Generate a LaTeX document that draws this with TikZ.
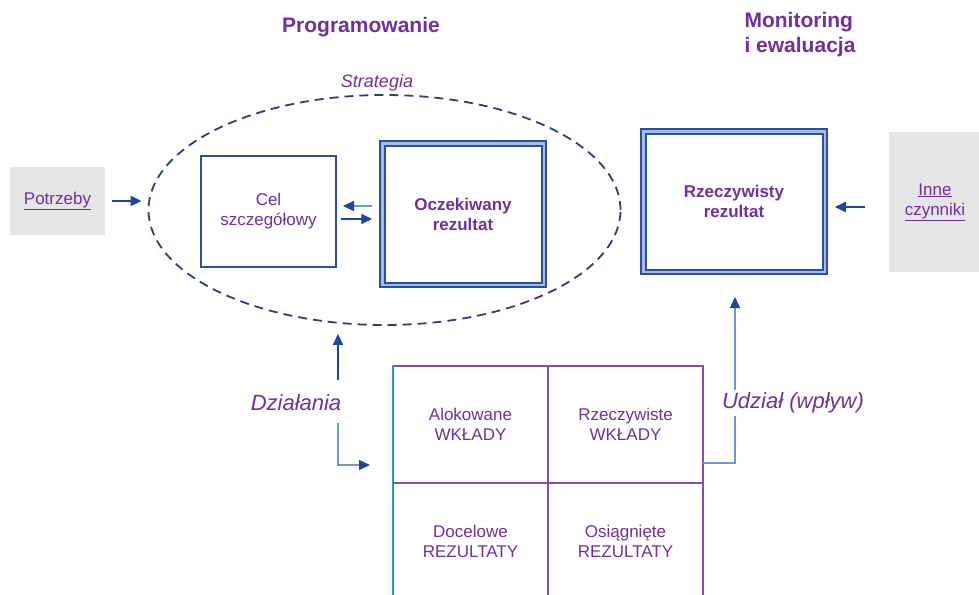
\documentclass[tikz,border=0pt]{standalone}
\usepackage{fontspec}
\setmainfont{Liberation Sans}
\usetikzlibrary{arrows.meta,shapes.geometric}
\definecolor{txtpurple}{RGB}{112,48,160}
\definecolor{boxblue}{RGB}{46,78,158}
\definecolor{lightblue}{RGB}{160,188,232}
\definecolor{dashnavy}{RGB}{44,64,118}
\definecolor{arrowblue}{RGB}{30,70,160}
\definecolor{lineblue}{RGB}{110,150,212}
\definecolor{gridpurple}{RGB}{130,80,170}
\definecolor{gridcyan}{RGB}{60,160,200}
\definecolor{boxgray}{RGB}{230,230,230}

\begin{document}
\begin{tikzpicture}[x=1pt,y=-1pt]
\tikzset{
  plainbox/.style={rectangle,draw=boxblue,line width=2pt,inner sep=2pt,align=center,text=txtpurple,font=\fontsize{17}{20}\selectfont},
  resultbox/.style={rectangle,draw=boxblue,double=lightblue,double distance=2.5pt,line width=2pt,inner sep=2pt,align=center,text=txtpurple,font=\fontsize{17}{20}\selectfont\bfseries},
  graybox/.style={rectangle,fill=boxgray,inner sep=2pt,align=center,text=txtpurple,font=\fontsize{17}{20}\selectfont},
  gridcell/.style={rectangle,draw=gridpurple,line width=1.2pt,minimum width=155pt,minimum height=117pt,align=center,text=txtpurple,font=\fontsize{17}{20}\selectfont},
  strategy/.style={ellipse,draw=dashnavy,line width=1.8pt,dash pattern=on 9pt off 6pt,minimum width=472pt,minimum height=230pt,inner sep=0pt},
  heading/.style={text=txtpurple,font=\fontsize{21}{25}\selectfont\bfseries,align=left},
  caption/.style={text=txtpurple,font=\fontsize{22}{26}\selectfont\itshape,fill=white,inner sep=3pt},
  directed/.style={-{Triangle[length=11pt,width=10pt]},draw=arrowblue,line width=2pt},
  lightdirected/.style={-{Triangle[length=11pt,width=10pt,color=arrowblue]},draw=lineblue,line width=1.3pt}
}
\useasboundingbox[fill=white] (0,0) rectangle (979,594);
\node[heading] (n_prog) at (361,27) {Programowanie};
\node[heading] (n_monit) at (800,35) {Monitoring\\i ewaluacja};
\node[text=txtpurple,font=\fontsize{18}{20}\selectfont\itshape] (n_strategia) at (377,83) {Strategia};
\node[strategy] (n_strat) at (384.5,210) {};
\node[graybox,minimum width=95pt,minimum height=68pt] (n_potrzeby) at (57.5,201) {\underline{Potrzeby}};
\node[plainbox,minimum width=135pt,minimum height=111pt] (n_cel) at (268.5,211.5) {Cel\\szczegółowy};
\node[resultbox,minimum width=161.5pt,minimum height=141.5pt] (n_oczek) at (463,214) {Oczekiwany\\rezultat};
\node[resultbox,minimum width=181.5pt,minimum height=140.5pt] (n_rzecz) at (734,201.5) {Rzeczywisty\\rezultat};
\node[graybox,minimum width=92pt,minimum height=140pt] (n_inne) at (935,202) {\underline{Inne}\\\underline{czynniki}};
\node[gridcell] (n_alok) at (470.5,424.5) {Alokowane\\WKŁADY};
\node[gridcell] (n_rzwk) at (625.5,424.5) {Rzeczywiste\\WKŁADY};
\node[gridcell] (n_docel) at (470.5,541.5) {Docelowe\\REZULTATY};
\node[gridcell] (n_osiag) at (625.5,541.5) {Osiągnięte\\REZULTATY};
\draw[gridcyan,line width=1.2pt] (n_alok.north west) -- (n_docel.south west);
\coordinate (c_dzup) at (338,380);
\coordinate (c_dzdown) at (338,423);
\coordinate (c_dzend) at (370,465);
\coordinate (c_udzstart) at (703,463);
\coordinate (c_udzend) at (735,297);
\draw[directed,shorten <=7pt,shorten >=6pt] (n_potrzeby.east) -- (n_potrzeby.east -| n_strat.west);
\draw[lightdirected,line width=1.6pt,shorten <=9pt,shorten >=6pt] ([yshift=8pt]n_oczek.west) -- ([yshift=8pt]n_oczek.west -| n_cel.east);
\draw[directed,shorten <=4pt,shorten >=9pt] ([yshift=-5pt]n_oczek.west -| n_cel.east) -- ([yshift=-5pt]n_oczek.west);
\draw[directed,shorten <=24pt,shorten >=9pt] ([yshift=-5pt]n_inne.west) -- ([yshift=-5pt]n_inne.west -| n_rzecz.east);
\draw[directed,line width=1.5pt,shorten >=8pt] (c_dzup) -- (c_dzup |- n_strat.south);
\draw[lightdirected] (c_dzdown) |- (c_dzend);
\draw[lightdirected] (c_udzstart) -| (c_udzend);
\node[caption] (n_dzialania) at (296,403) {Działania};
\node[caption] (n_udzial) at (793,403) {Udział (wpływ)};
\end{tikzpicture}
\end{document}
